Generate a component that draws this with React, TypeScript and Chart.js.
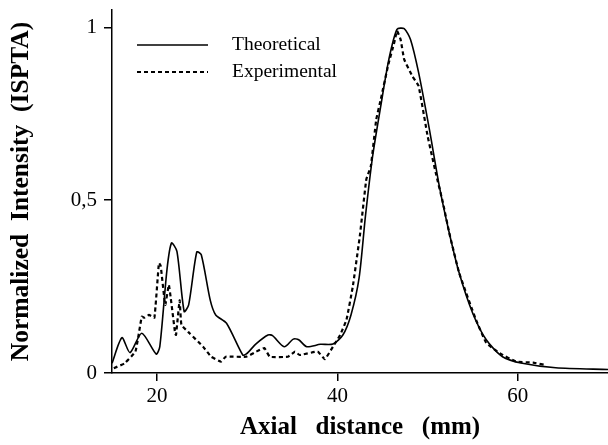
import React, { useEffect, useRef } from "react";
import { Chart, registerables } from "chart.js";

Chart.register(...registerables);

const theoX = [15.0, 16.1, 17.0, 18.3, 19.9, 20.3, 21.1, 21.6, 22.2, 23.0, 23.5, 24.4, 24.9, 25.9, 26.5, 27.7, 29.5, 29.9, 31.0, 32.3, 32.8, 34.1, 35.1, 35.7, 36.6, 38.1, 39.5, 40.6, 41.5, 42.4, 43.1, 43.9, 44.8, 45.7, 46.6, 47.4, 48.1, 49.0, 50.2, 51.3, 52.4, 53.5, 55.0, 56.5, 58.3, 60.5, 64.2, 70.0];
const theoY = [0.028, 0.102, 0.059, 0.115, 0.055, 0.076, 0.30, 0.376, 0.352, 0.178, 0.197, 0.35, 0.342, 0.21, 0.168, 0.144, 0.052, 0.055, 0.085, 0.110, 0.108, 0.076, 0.098, 0.096, 0.076, 0.083, 0.084, 0.11, 0.168, 0.275, 0.453, 0.627, 0.772, 0.907, 0.994, 0.996, 0.965, 0.869, 0.704, 0.54, 0.405, 0.289, 0.173, 0.096, 0.047, 0.028, 0.015, 0.010];

const expX = [15.2, 16.4, 17.6, 18.3, 18.6, 19.1, 19.7, 20.2, 20.4, 20.9, 21.3, 21.5, 22.0, 22.1, 22.5, 22.7, 23.6, 25.1, 26.0, 27.1, 27.6, 29.9, 31.0, 31.9, 32.5, 34.5, 35.3, 35.8, 37.8, 38.6, 39.5, 40.3, 41.0, 41.7, 42.5, 43.2, 43.7, 44.3, 44.8, 45.6, 46.3, 46.6, 47.0, 47.4, 48.3, 49.0, 50.0, 50.9, 51.7, 52.4, 53.5, 55.3, 56.5, 58.0, 59.8, 61.7, 62.9];
const expY = [0.014, 0.028, 0.062, 0.163, 0.16, 0.168, 0.16, 0.318, 0.31, 0.197, 0.255, 0.22, 0.115, 0.11, 0.21, 0.139, 0.115, 0.076, 0.047, 0.033, 0.047, 0.047, 0.062, 0.072, 0.047, 0.047, 0.062, 0.052, 0.062, 0.04, 0.076, 0.11, 0.154, 0.25, 0.40, 0.56, 0.598, 0.733, 0.791, 0.888, 0.956, 0.99, 0.965, 0.907, 0.859, 0.83, 0.685, 0.579, 0.492, 0.405, 0.289, 0.158, 0.087, 0.057, 0.033, 0.030, 0.024];

const xTicks = [20, 40, 60];
const yTicks = [0, 0.5, 1];
const yTickLabels = ["0", "0,5", "1"];
const seriesNames = ["Theoretical", "Experimental"];

const SERIF = "'Liberation Serif', 'Times New Roman', serif";

const legendPlugin = {
  id: "insideLegend",
  afterDraw(chart: any) {
    const ctx = chart.ctx;
    const rows = [45, 72];
    ctx.save();
    chart.data.datasets.forEach((ds: any, i: number) => {
      const y = rows[i];
      ctx.beginPath();
      ctx.strokeStyle = ds.borderColor;
      ctx.lineWidth = ds.borderWidth;
      ctx.setLineDash(ds.borderDash || []);
      ctx.moveTo(137, y);
      ctx.lineTo(208, y);
      ctx.stroke();
      ctx.setLineDash([]);
      ctx.fillStyle = "#000";
      ctx.font = `19.5px ${SERIF}`;
      ctx.textBaseline = "middle";
      ctx.textAlign = "left";
      ctx.fillText(ds.label, 232, y);
    });
    ctx.restore();
  },
};

export default function App() {
  const ref = useRef<HTMLCanvasElement | null>(null);
  useEffect(() => {
    if (!ref.current) return;
    const chart = new Chart(ref.current, {
      type: "line",
      data: {
        datasets: [
          {
            label: seriesNames[0],
            data: theoX.map((x, i) => ({ x, y: theoY[i] })),
            borderColor: "#000",
            borderWidth: 1.6,
            pointRadius: 0,
            tension: 0.25,
            fill: false,
          },
          {
            label: seriesNames[1],
            data: expX.map((x, i) => ({ x, y: expY[i] })),
            borderColor: "#000",
            borderWidth: 2.2,
            borderDash: [4, 3],
            pointRadius: 0,
            tension: 0.1,
            fill: false,
          },
        ],
      },
      options: {
        responsive: false,
        animation: false,
        layout: { padding: { top: 10, right: 0, bottom: 0, left: 0 } },
        plugins: { legend: { display: false }, tooltip: { enabled: false } },
        scales: {
          x: {
            type: "linear",
            min: 15,
            max: 70,
            afterBuildTicks: (s: any) => {
              s.ticks = xTicks.map((v) => ({ value: v }));
            },
            afterFit: (s: any) => {
              s.height = 72;
              s.paddingLeft = 0;
              s.paddingRight = 0;
            },
            ticks: {
              color: "#000",
              font: { family: SERIF, size: 21 },
              padding: 3,
              maxRotation: 0,
              callback: (v: any) => String(v),
            },
            grid: { drawOnChartArea: false, drawTicks: true, tickLength: 8, color: "#000", lineWidth: 1.5 },
            border: { display: true, color: "#000", width: 1.5 },
            title: {
              display: true,
              text: "Axial   distance   (mm)",
              color: "#000",
              font: { family: SERIF, size: 25, weight: "bold" },
              padding: { top: 0, bottom: 2 },
            },
          },
          y: {
            type: "linear",
            min: 0,
            max: 1.05,
            afterBuildTicks: (s: any) => {
              s.ticks = yTicks.map((v) => ({ value: v }));
            },
            afterFit: (s: any) => {
              s.width = 112;
              s.paddingTop = 0;
              s.paddingBottom = 0;
            },
            ticks: {
              color: "#000",
              font: { family: SERIF, size: 21 },
              padding: 7,
              callback: (v: any) => {
                const i = yTicks.indexOf(Number(v));
                return i >= 0 ? yTickLabels[i] : "";
              },
            },
            grid: { drawOnChartArea: false, drawTicks: true, tickLength: 8, color: "#000", lineWidth: 1.5 },
            border: { display: true, color: "#000", width: 1.5 },
            title: {
              display: true,
              text: "Normalized  Intensity  (ISPTA)",
              color: "#000",
              font: { family: SERIF, size: 25.5, weight: "bold" },
              padding: { top: 6, bottom: 0 },
            },
          },
        },
      },
      plugins: [legendPlugin],
    } as any);
    return () => chart.destroy();
  }, []);
  return (
    <div style={{ position: "absolute", left: 0, top: 0, width: 608, height: 445, background: "#fff" }}>
      <canvas ref={ref} width={608} height={445} style={{ display: "block" }} />
    </div>
  );
}
